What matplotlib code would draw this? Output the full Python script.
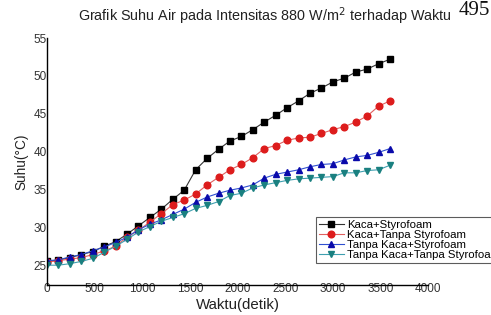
import matplotlib
matplotlib.use("Agg")
import matplotlib.pyplot as plt

plt.rcParams['font.family'] = ['Liberation Sans', 'DejaVu Sans']

# waktu tiap 120 detik
waktu = list(range(0, 3601, 120))

kaca_styro = [25.5, 25.7, 26.0, 26.4, 26.8, 27.5, 28.1, 29.1, 30.2, 31.3,
              32.4, 33.7, 34.9, 37.6, 39.1, 40.3, 41.4, 42.0, 42.9, 43.9,
              44.8, 45.8, 46.7, 47.7, 48.4, 49.2, 49.7, 50.5, 50.9, 51.6, 52.2]
kaca_tanpa = [25.4, 25.6, 25.8, 26.0, 26.4, 26.9, 27.5, 28.7, 29.6, 30.7,
              31.8, 33.0, 33.6, 34.4, 35.6, 36.6, 37.6, 38.3, 39.2, 40.4,
              40.8, 41.5, 41.8, 41.9, 42.4, 42.9, 43.3, 43.9, 44.7, 46.0, 46.7]
tanpa_styro = [25.6, 25.7, 26.1, 26.4, 26.9, 27.4, 28.0, 28.7, 29.7, 30.4,
               31.0, 31.7, 32.4, 33.3, 34.0, 34.5, 34.9, 35.2, 35.6, 36.5,
               37.0, 37.3, 37.6, 38.0, 38.3, 38.4, 38.9, 39.3, 39.5, 39.9, 40.4]
tanpa_tanpa = [25.0, 25.0, 25.2, 25.5, 25.9, 26.7, 27.5, 28.4, 29.4, 30.1,
               30.8, 31.3, 31.8, 32.5, 32.9, 33.4, 34.2, 34.5, 35.2, 35.6,
               35.9, 36.2, 36.4, 36.5, 36.6, 36.7, 37.2, 37.2, 37.5, 37.6, 38.2]

labels = ["Kaca+Styrofoam", "Kaca+Tanpa Styrofoam",
          "Tanpa Kaca+Styrofoam", "Tanpa Kaca+Tanpa Styrofoam"]

fig = plt.figure(figsize=(4.91, 3.15), dpi=100)
ax = fig.add_axes([0.0957, 0.0968, 0.7763, 0.7825])

ax.plot(waktu, kaca_styro, color="#333333", lw=0.8, marker="s", ms=4.3,
        mfc="black", mec="black", label=labels[0])
ax.plot(waktu, kaca_tanpa, color="#e06060", lw=0.8, marker="o", ms=4.8,
        mfc="#dd1c1c", mec="#dd1c1c", label=labels[1])
ax.plot(waktu, tanpa_styro, color="#3050d0", lw=0.8, marker="^", ms=5,
        mfc="#0a0aaa", mec="#0a0aaa", label=labels[2])
ax.plot(waktu, tanpa_tanpa, color="#40a0b0", lw=0.8, marker="v", ms=5,
        mfc="#1a8080", mec="#1a8080", label=labels[3])

ax.set_xlim(0, 4000)
ax.set_ylim(22.45, 55)
ax.set_xticks(range(0, 4001, 500))
ax.set_yticks(range(25, 56, 5))
ax.spines['top'].set_visible(False)
ax.spines['right'].set_visible(False)
ax.spines['left'].set_linewidth(1.0)
ax.spines['bottom'].set_linewidth(1.0)
ax.tick_params(length=0, labelsize=8.5, labelcolor="#333333")
ax.tick_params(axis="x", pad=-1)
ax.tick_params(axis="y", pad=0)

ax.set_xlabel("Waktu(detik)", fontsize=10.8, color="#222222", labelpad=2)
ax.set_ylabel("Suhu(°C)", fontsize=9.8, color="#222222", labelpad=4)

fig.text(0.54, 0.95, "Grafik Suhu Air pada Intensitas 880 W/m$^2$ terhadap Waktu",
         ha="center", va="center", fontsize=10.4, color="#222222")
fig.text(0.998, 0.998, "495", ha="right", va="top", fontsize=15,
         family=["Liberation Serif", "DejaVu Serif"], color="#111111")

leg = ax.legend(loc="upper left", bbox_to_anchor=(0.6436, 0.311),
                bbox_transform=fig.transFigure, fontsize=8.2, frameon=True,
                fancybox=False, edgecolor="#333333", handlelength=2.2,
                handletextpad=0.3, labelspacing=0.0, borderpad=0.25,
                borderaxespad=0)
leg.get_frame().set_linewidth(0.8)

fig.savefig("out.png", dpi=100)
